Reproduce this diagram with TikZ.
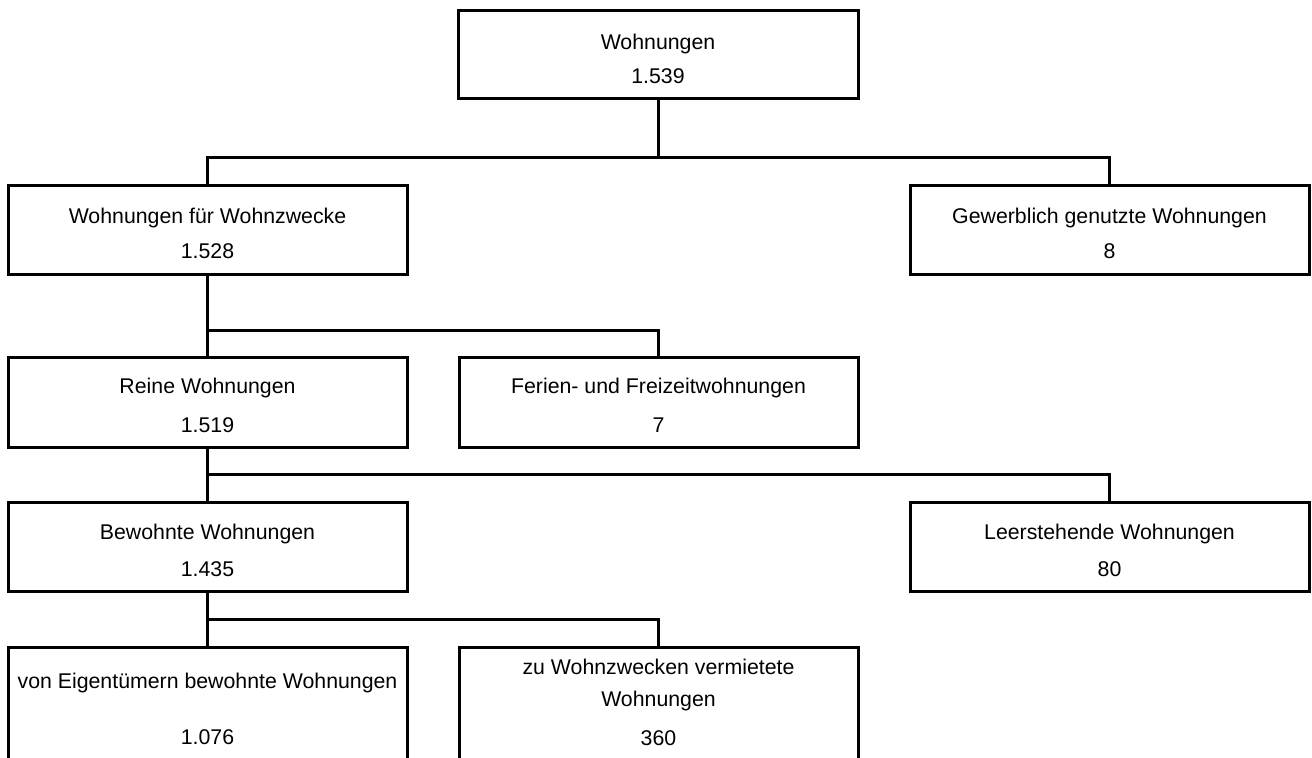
\documentclass[tikz,border=0pt]{standalone}
\usepackage{fontspec}
\setmainfont{Liberation Sans}
\begin{document}
\begin{tikzpicture}[x=0.5pt,y=-0.5pt,
  box/.style={draw=black, line width=1.5pt, fill=white, inner sep=0pt, minimum width=199.5pt},
  lbl/.style={anchor=base, inner sep=0pt, font=\fontsize{10.65pt}{12pt}\selectfont, text=black},
  conn/.style={draw=black, line width=1.5pt}]
\useasboundingbox (0,0) rectangle (1312,757);
\clip (0,0) rectangle (1312,757);
% boxes
\node[box, minimum width=200pt, minimum height=44pt] (w) at (658,54) {};
\node[box, minimum height=44.5pt] (wz) at (207.5,229.5) {};
\node[box, minimum height=44.5pt] (gw) at (1109.5,229.5) {};
\node[box, minimum height=45pt] (rw) at (207.5,402) {};
\node[box, minimum height=45pt] (fw) at (658.5,402) {};
\node[box, minimum height=44.5pt] (bw) at (207.5,546.5) {};
\node[box, minimum height=44.5pt] (lw) at (1109.5,546.5) {};
\node[box, minimum height=76.5pt] (ew) at (207.5,723.5) {};
\node[box, minimum height=76.5pt] (vw) at (658.5,723.5) {};
% bus coordinates
\coordinate (b1) at (0,157);
\coordinate (b2) at (0,330);
\coordinate (b3) at (0,474);
\coordinate (b4) at (0,619);
% connectors
\draw[conn] (w.south) -- (w.south |- b1);
\draw[conn] (wz.north) -- (wz.north |- b1) -- (gw.north |- b1) -- (gw.north);
\draw[conn] (wz.south) -- (rw.north);
\draw[conn] (rw.north |- b2) -- (fw.north |- b2) -- (fw.north);
\draw[conn] (rw.south) -- (bw.north);
\draw[conn] (bw.north |- b3) -- (lw.north |- b3) -- (lw.north);
\draw[conn] (bw.south) -- (ew.north);
\draw[conn] (ew.north |- b4) -- (vw.north |- b4) -- (vw.north);
% texts
\node[lbl] (wt1) at (658,49) {Wohnungen};
\node[lbl] (wt2) at (658,83) {1.539};
\node[lbl] (wzt1) at (207.5,223) {Wohnungen für Wohnzwecke};
\node[lbl] (wzt2) at (207.5,258) {1.528};
\node[lbl] (gwt1) at (1109.5,223) {Gewerblich genutzte Wohnungen};
\node[lbl] (gwt2) at (1109.5,258) {8};
\node[lbl] (rwt1) at (207.5,393) {Reine Wohnungen};
\node[lbl] (rwt2) at (207.5,432) {1.519};
\node[lbl] (fwt1) at (658.5,393) {Ferien- und Freizeitwohnungen};
\node[lbl] (fwt2) at (658.5,432) {7};
\node[lbl] (bwt1) at (207.5,539) {Bewohnte Wohnungen};
\node[lbl] (bwt2) at (207.5,576) {1.435};
\node[lbl] (lwt1) at (1109.5,539) {Leerstehende Wohnungen};
\node[lbl] (lwt2) at (1109.5,576) {80};
\node[lbl] (ewt1) at (207.5,688) {von Eigentümern bewohnte Wohnungen};
\node[lbl] (ewt2) at (207.5,744) {1.076};
\node[lbl] (vwt1) at (658.5,674) {zu Wohnzwecken vermietete};
\node[lbl] (vwt2) at (658.5,706) {Wohnungen};
\node[lbl] (vwt3) at (658.5,745) {360};
\end{tikzpicture}
\end{document}
